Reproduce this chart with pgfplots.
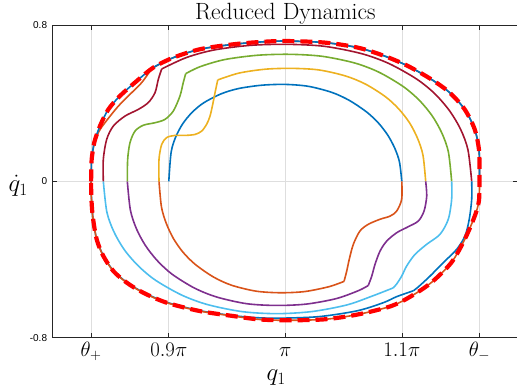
\documentclass[border=0pt]{standalone}
\usepackage{pgfplots}
\pgfplotsset{compat=1.18}
\usepackage{fontspec}
\newfontfamily\axsans{Liberation Sans}
\definecolor{mblue}{rgb}{0,0.447,0.741}
\definecolor{morange}{rgb}{0.85,0.325,0.098}
\definecolor{myellow}{rgb}{0.929,0.694,0.125}
\definecolor{mpurple}{rgb}{0.494,0.184,0.556}
\definecolor{mgreen}{rgb}{0.466,0.674,0.188}
\definecolor{mlblue}{rgb}{0.301,0.745,0.933}
\definecolor{mdred}{rgb}{0.635,0.078,0.184}
\begin{document}
\begin{tikzpicture}
\begin{axis}[
  scale only axis, width=466pt, height=312.7pt,
  xmin=0.8, xmax=1.2, ymin=-0.8, ymax=0.8,
  xtick={0.833333,0.9,1,1.1,1.166667},
  xticklabels={$\theta_+$,$0.9\pi$,$\pi$,$1.1\pi$,$\theta_-$},
  ytick={-0.8,0,0.8}, yticklabels={-0.8,0,0.8},
  grid=major, major grid style={black!13, line width=0.6pt},
  axis line style={black!85, line width=0.7pt},
  major tick length=5pt, tick style={black!85, line width=0.6pt},
  tick align=inside,
  xticklabel style={font=\fontsize{21}{24}\selectfont, anchor=base, yshift=-19pt},
  yticklabel style={font=\axsans\fontsize{10}{12}\selectfont, anchor=east, xshift=-1.7pt},
  every axis title/.style={at={(axis description cs:0.5,1)}, anchor=base, yshift=5pt, font=\fontsize{23.5}{27}\selectfont},
  title={Reduced Dynamics},
  every axis x label/.style={at={(axis description cs:0.5,0)}, anchor=base, yshift=-43pt, xshift=-9pt, font=\fontsize{25}{30}\selectfont},
  xlabel={$q_1$},
  every axis y label/.style={at={(axis description cs:0,0.5)}, anchor=base, xshift=-34pt, yshift=-10.6pt, font=\fontsize{25}{30}\selectfont},
  ylabel={$\dot{q}_1$},
  every axis plot/.append style={line width=1.6pt, smooth, no markers},
]
% blue (upper, inner)
\addplot[mblue] coordinates {(0.9000,0.000) (0.9020,0.149) (0.9060,0.228) (0.9120,0.295) (0.9200,0.353) (0.9300,0.402) (0.9450,0.448) (0.9600,0.475) (0.9800,0.492) (1.0000,0.496) (1.0200,0.486) (1.0400,0.455) (1.0550,0.414) (1.0700,0.354) (1.0800,0.298) (1.0880,0.236) (1.0940,0.169) (1.0980,0.099) (1.1000,0.000)};
% orange (lower)
\addplot[morange] coordinates {(1.1000,0.000) (1.0999,-0.092) (1.0956,-0.152) (1.0899,-0.178) (1.0813,-0.194) (1.0712,-0.220) (1.0641,-0.254) (1.0584,-0.322) (1.0549,-0.399) (1.0527,-0.460) (1.0504,-0.512)};
\addplot[morange] coordinates {(1.0504,-0.512) (1.0375,-0.539) (1.0166,-0.564) (0.9958,-0.570) (0.9750,-0.562) (0.9541,-0.532) (0.9385,-0.490) (0.9229,-0.426) (0.9124,-0.364) (0.9041,-0.294) (0.8979,-0.216) (0.8937,-0.131) (0.8916,0.000)};
% yellow (upper)
\addplot[myellow] coordinates {(0.8916,0.000) (0.8916,0.113) (0.8939,0.189) (0.8982,0.224) (0.9053,0.235) (0.9139,0.235) (0.9225,0.240) (0.9282,0.257) (0.9325,0.292) (0.9354,0.334) (0.9377,0.394) (0.9397,0.454) (0.9420,0.519)};
\addplot[myellow] coordinates {(0.9420,0.519) (0.9603,0.554) (0.9832,0.574) (1.0061,0.578) (1.0289,0.570) (1.0518,0.539) (1.0690,0.497) (1.0862,0.432) (1.0976,0.369) (1.1068,0.298) (1.1136,0.219) (1.1182,0.133) (1.1205,0.000)};
% purple (lower)
\addplot[mpurple] coordinates {(1.1205,0.000) (1.1214,-0.075) (1.1191,-0.152) (1.1142,-0.203) (1.1056,-0.232) (1.0956,-0.263) (1.0870,-0.306) (1.0813,-0.357) (1.0770,-0.425) (1.0742,-0.485) (1.0712,-0.533)};
\addplot[mpurple] coordinates {(1.0712,-0.533) (1.0629,-0.559) (1.0437,-0.600) (1.0181,-0.628) (0.9925,-0.635) (0.9668,-0.626) (0.9412,-0.592) (0.9220,-0.546) (0.9028,-0.475) (0.8900,-0.405) (0.8798,-0.327) (0.8721,-0.241) (0.8670,-0.146) (0.8644,0.000)};
% green (upper)
\addplot[mgreen] coordinates {(0.8644,0.000) (0.8647,0.113) (0.8667,0.198) (0.8710,0.257) (0.8781,0.287) (0.8882,0.300) (0.8967,0.317) (0.9039,0.360) (0.9096,0.437) (0.9124,0.505) (0.9145,0.551)};
\addplot[mgreen] coordinates {(0.9145,0.551) (0.9270,0.587) (0.9479,0.623) (0.9758,0.645) (1.0036,0.650) (1.0314,0.640) (1.0593,0.606) (1.0802,0.559) (1.1010,0.486) (1.1150,0.415) (1.1261,0.335) (1.1344,0.247) (1.1400,0.150) (1.1428,0.000)};
% light blue (lower)
\addplot[mlblue] coordinates {(1.1428,0.000) (1.1428,-0.092) (1.1399,-0.194) (1.1328,-0.271) (1.1214,-0.322) (1.1113,-0.374) (1.1042,-0.433) (1.0999,-0.485) (1.0956,-0.525) (1.0927,-0.545)};
\addplot[mlblue] coordinates {(1.0927,-0.545) (1.0755,-0.585) (1.0531,-0.632) (1.0232,-0.666) (0.9933,-0.677) (0.9634,-0.667) (0.9335,-0.631) (0.9111,-0.582) (0.8886,-0.506) (0.8737,-0.432) (0.8617,-0.349) (0.8528,-0.257) (0.8468,-0.156) (0.8438,0.000)};
% dark red (upper)
\addplot[mdred] coordinates {(0.8438,0.000) (0.8438,0.113) (0.8467,0.215) (0.8524,0.283) (0.8624,0.334) (0.8738,0.368) (0.8824,0.403) (0.8882,0.454) (0.8910,0.522) (0.8939,0.575)};
\addplot[mdred] coordinates {(0.8939,0.575) (0.9149,0.633) (0.9387,0.672) (0.9703,0.696) (1.0019,0.701) (1.0335,0.691) (1.0651,0.654) (1.0889,0.603) (1.1126,0.524) (1.1284,0.448) (1.1410,0.361) (1.1505,0.266) (1.1568,0.161) (1.1600,0.000)};
% blue (lower, second pass)
\addplot[mblue] coordinates {(1.1600,0.000) (1.1600,-0.092) (1.1579,-0.194) (1.1542,-0.280) (1.1471,-0.348) (1.1356,-0.416) (1.1242,-0.485) (1.1142,-0.540) (1.1099,-0.560)};
\addplot[mblue] coordinates {(1.1099,-0.560) (1.0956,-0.590) (1.0841,-0.621) (1.0620,-0.662) (1.0293,-0.692) (0.9967,-0.700) (0.9766,-0.698) (0.9551,-0.687) (0.9268,-0.662) (0.8982,-0.619) (0.8781,-0.568) (0.8638,-0.516) (0.8524,-0.457) (0.8438,-0.380) (0.8381,-0.296) (0.8347,-0.178) (0.8333,-0.041) (0.8333,0.000)};
% orange (upper, second pass)
\addplot[morange] coordinates {(0.8333,0.000) (0.8338,0.113) (0.8362,0.198) (0.8400,0.255) (0.8452,0.300) (0.8567,0.385) (0.8682,0.454) (0.8767,0.505) (0.8839,0.564)};
\addplot[morange] coordinates {(0.8839,0.564) (0.8867,0.582) (0.9039,0.633) (0.9268,0.676) (0.9551,0.701) (0.9783,0.713) (1.0000,0.718) (1.0338,0.710) (1.0624,0.684) (1.0853,0.641) (1.1053,0.590) (1.1253,0.522) (1.1411,0.454) (1.1540,0.368) (1.1626,0.266) (1.1662,0.164) (1.1667,0.060) (1.1667,0.000)};
% converged lower half (orange)
\addplot[morange] coordinates {(1.1667,0.000) (1.1662,-0.100) (1.1626,-0.178) (1.1540,-0.297) (1.1425,-0.416) (1.1253,-0.518) (1.1082,-0.587) (1.0910,-0.638) (1.0624,-0.681) (1.0338,-0.706) (1.0000,-0.711) (0.9766,-0.706) (0.9551,-0.689) (0.9268,-0.664) (0.8982,-0.621) (0.8781,-0.570) (0.8638,-0.518) (0.8524,-0.459) (0.8438,-0.382) (0.8381,-0.297) (0.8347,-0.178) (0.8335,-0.080) (0.8333,0.000)};
% converged upper half (blue)
\addplot[mblue] coordinates {(0.8333,0.000) (0.8335,0.060) (0.8338,0.113) (0.8360,0.198) (0.8409,0.283) (0.8481,0.368) (0.8581,0.437) (0.8724,0.513) (0.8867,0.582) (0.9039,0.633) (0.9268,0.676) (0.9551,0.701) (0.9783,0.713) (1.0000,0.718) (1.0338,0.710) (1.0624,0.684) (1.0853,0.641) (1.1053,0.590) (1.1253,0.522) (1.1411,0.454) (1.1540,0.368) (1.1626,0.266) (1.1662,0.164) (1.1667,0.060) (1.1667,0.000)};
% limit cycle (red dashed)
\addplot[red, line width=4.2pt, dash pattern=on 12pt off 6pt] coordinates {(0.8333,0.000) (0.8335,0.060) (0.8338,0.113) (0.8360,0.198) (0.8409,0.283) (0.8481,0.368) (0.8581,0.437) (0.8724,0.513) (0.8867,0.582) (0.9039,0.633) (0.9268,0.676) (0.9551,0.701) (0.9783,0.713) (1.0000,0.718) (1.0338,0.710) (1.0624,0.684) (1.0853,0.641) (1.1053,0.590) (1.1253,0.522) (1.1411,0.454) (1.1540,0.368) (1.1626,0.266) (1.1662,0.164) (1.1667,0.060) (1.1667,0.000) (1.1662,-0.100) (1.1626,-0.178) (1.1540,-0.297) (1.1425,-0.416) (1.1253,-0.518) (1.1082,-0.587) (1.0910,-0.638) (1.0624,-0.681) (1.0338,-0.706) (1.0000,-0.711) (0.9766,-0.706) (0.9551,-0.689) (0.9268,-0.664) (0.8982,-0.621) (0.8781,-0.570) (0.8638,-0.518) (0.8524,-0.459) (0.8438,-0.382) (0.8381,-0.297) (0.8347,-0.178) (0.8335,-0.080) (0.8333,0.000)};
\end{axis}
\pgfresetboundingbox
\path[use as bounding box] ([shift={(-52.3pt,-49.3pt)}]current axis.south west) rectangle ([shift={(-1.3pt,25pt)}]current axis.north east);
\end{tikzpicture}
\end{document}
